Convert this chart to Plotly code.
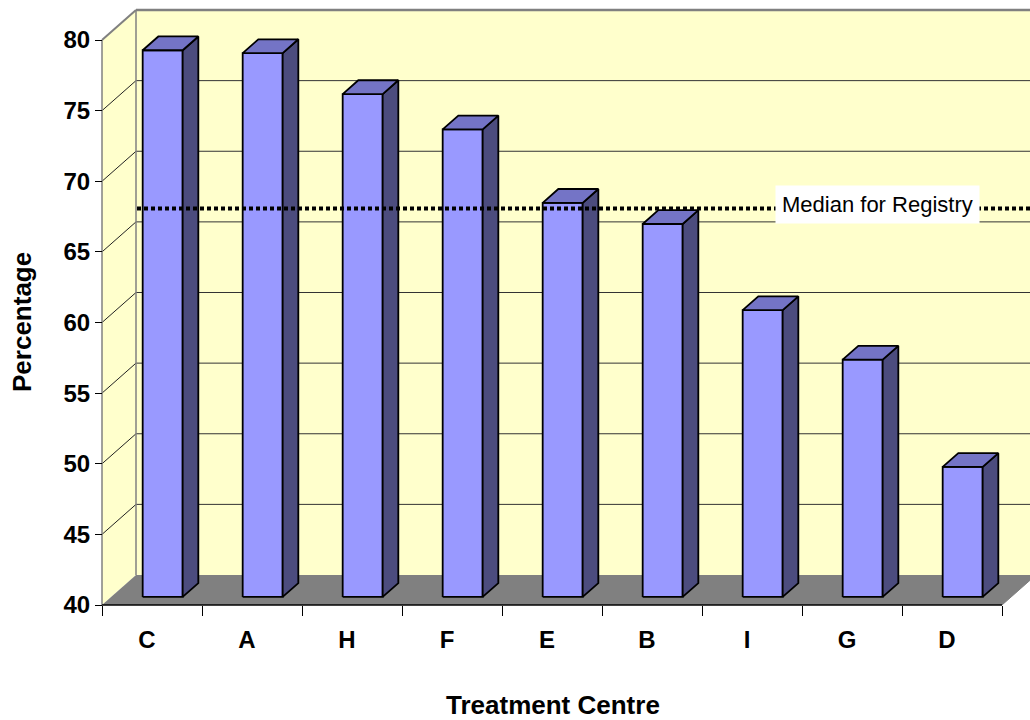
import plotly.graph_objects as go

# Data
centres = ["C", "A", "H", "F", "E", "B", "I", "G", "D"]
percentages = [78.7, 78.5, 75.6, 73.1, 67.9, 66.4, 60.3, 56.8, 49.2]
median_registry = 67.5
y_ticks = [40, 45, 50, 55, 60, 65, 70, 75, 80]

# Oblique 3-D projection: depth offsets in data units (x: categories, y: percent)
PX_CAT = 100.0          # pixels per category
PX_UNIT = 14.125        # pixels per percentage point
DX = 34 / PX_CAT        # full wall depth, horizontal component
DY = 30 / PX_UNIT       # full wall depth, vertical component
FRONT, BACK = 0.27, 0.73  # depth fractions of the bar faces
HALF_W = 0.20
Y0, Y1 = y_ticks[0], y_ticks[-1]
N = len(centres)

# plot-area geometry (pixels): front origin at (102, 605)
W, H = 1030, 720
left, bottom = 90, 612
x_lo = (left - 102) / PX_CAT
x_hi = (W - 102) / PX_CAT
y_lo = Y0 - (bottom - 605) / PX_UNIT
y_hi = Y0 + 605 / PX_UNIT

FRONT_C = "#9999FF"
SIDE_C = "#4C4C7E"
TOP_C = "#7474C6"
WALL_C = "#FFFFCC"
FLOOR_C = "#808080"
EDGE_C = "#808080"
FONT = "Liberation Sans, Arial"


def path(points):
    return "M " + " L ".join(f"{x:.4f},{y:.4f}" for x, y in points) + " Z"


shapes = []
# back wall
shapes.append(dict(type="rect", xref="x", yref="y", layer="below",
                   x0=DX, x1=N + DX + 1, y0=Y0 + DY, y1=Y1 + DY,
                   fillcolor=WALL_C, line=dict(width=0)))
# left side wall
shapes.append(dict(type="path", xref="x", yref="y", layer="below",
                   path=path([(0, Y0), (DX, Y0 + DY), (DX, Y1 + DY), (0, Y1)]),
                   fillcolor=WALL_C, line=dict(width=0)))
# floor
shapes.append(dict(type="path", xref="x", yref="y", layer="below",
                   path=path([(0, Y0), (N, Y0), (N + DX, Y0 + DY), (DX, Y0 + DY)]),
                   fillcolor=FLOOR_C, line=dict(width=0)))
# gridlines on side wall and back wall
for v in y_ticks[1:-1]:
    shapes.append(dict(type="line", xref="x", yref="y", layer="below",
                       x0=0, y0=v, x1=DX, y1=v + DY,
                       line=dict(color="#222222", width=1)))
    shapes.append(dict(type="line", xref="x", yref="y", layer="below",
                       x0=DX, y0=v + DY, x1=N + DX + 1, y1=v + DY,
                       line=dict(color="#333333", width=1)))
# wall edges
shapes += [
    dict(type="line", xref="x", yref="y", layer="below",
         x0=0, y0=Y0, x1=0, y1=Y1, line=dict(color=EDGE_C, width=1.5)),
    dict(type="line", xref="x", yref="y", layer="below",
         x0=0, y0=Y1, x1=DX, y1=Y1 + DY, line=dict(color=EDGE_C, width=2)),
    dict(type="line", xref="x", yref="y", layer="below",
         x0=DX, y0=Y1 + DY, x1=N + DX + 1, y1=Y1 + DY, line=dict(color=EDGE_C, width=2.5)),
    dict(type="line", xref="x", yref="y", layer="below",
         x0=DX, y0=Y0 + DY, x1=DX, y1=Y1 + DY, line=dict(color=EDGE_C, width=1.5)),
    dict(type="line", xref="x", yref="y", layer="below",
         x0=N, y0=Y0, x1=N + DX, y1=Y0 + DY, line=dict(color=EDGE_C, width=1)),
    # front floor edge (category axis line)
    dict(type="line", xref="x", yref="y", layer="above",
         x0=0, y0=Y0, x1=N, y1=Y0, line=dict(color="black", width=1.5)),
]

fig = go.Figure()

# 3-D bars: front, side and top faces
ddx, ddy = (BACK - FRONT) * DX, (BACK - FRONT) * DY
for i, (name, v) in enumerate(zip(centres, percentages)):
    c = i + 0.515
    x0 = c - HALF_W + FRONT * DX
    x1 = c + HALF_W + FRONT * DX
    yb = Y0 + FRONT * DY
    yt = v + FRONT * DY
    faces = [
        ([x0, x1, x1, x0, x0], [yb, yb, yt, yt, yb], FRONT_C),
        ([x1, x1 + ddx, x1 + ddx, x1, x1], [yb, yb + ddy, yt + ddy, yt, yb], SIDE_C),
        ([x0, x1, x1 + ddx, x0 + ddx, x0], [yt, yt, yt + ddy, yt + ddy, yt], TOP_C),
    ]
    for xs, ys, col in faces:
        fig.add_trace(go.Scatter(x=xs, y=ys, mode="lines", fill="toself",
                                 fillcolor=col, line=dict(color="black", width=1.8),
                                 showlegend=False, hoverinfo="skip", name=name))

# median reference line
y_med = median_registry + FRONT * DY
shapes.append(dict(type="line", xref="x", yref="y", layer="above",
                   x0=DX + 0.01, y0=y_med, x1=N + 1, y1=y_med,
                   line=dict(color="black", width=4, dash="4px,3px")))

annotations = [
    dict(text="Median for Registry", x=7.75, y=y_med, xref="x", yref="y",
         xanchor="center", yanchor="middle",
         showarrow=False, yshift=3.5, bgcolor="white", borderpad=6,
         font=dict(family=FONT, size=22, color="black")),
    dict(text="<b>Percentage</b>", x=(22 - left) / (W - left), y=1 - 322 / bottom,
         xref="paper", yref="paper", xanchor="center", yanchor="middle",
         showarrow=False, textangle=-90,
         font=dict(family=FONT, size=26, color="black")),
    dict(text="<b>Treatment Centre</b>", x=(553 - left) / (W - left),
         y=(bottom - 705) / bottom, xref="paper", yref="paper",
         xanchor="center", yanchor="middle", showarrow=False,
         font=dict(family=FONT, size=26, color="black")),
]

fig.update_layout(
    width=W, height=H, autosize=False,
    margin=dict(l=left, r=0, t=0, b=H - bottom, pad=0),
    paper_bgcolor="white", plot_bgcolor="white",
    hovermode=False, showlegend=False,
    shapes=shapes, annotations=annotations,
    xaxis=dict(
        range=[x_lo, x_hi], anchor="free", position=(bottom - 605) / bottom,
        showgrid=False, zeroline=False, showline=False,
        tickmode="array", tickvals=[i + 0.45 for i in range(N)], ticktext=centres,
        ticks="outside", ticklen=13, tickcolor="rgba(0,0,0,0)",
        tickfont=dict(family=FONT, size=24, color="black", weight="bold"),
        minor=dict(tickmode="array", tickvals=list(range(N + 1)), ticks="outside",
                   ticklen=10, tickcolor="black", tickwidth=1, showgrid=False),
    ),
    yaxis=dict(
        range=[y_lo, y_hi], anchor="free", position=(102 - left) / (W - left),
        showgrid=False, zeroline=False, showline=False,
        tickmode="array", tickvals=y_ticks,
        ticks="outside", ticklen=7, tickcolor="black", tickwidth=1,
        tickfont=dict(family=FONT, size=24, color="black", weight="bold"),
    ),
)

fig.write_html("out.html")
